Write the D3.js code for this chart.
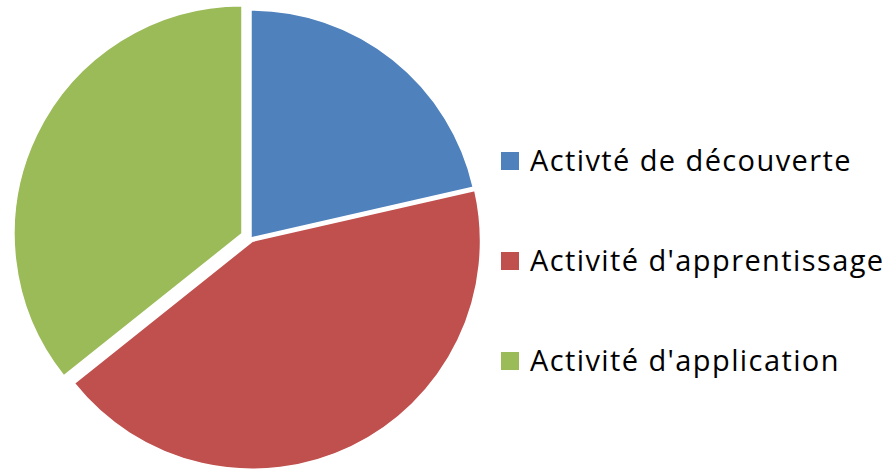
<!DOCTYPE html>
<html>
<head>
<meta charset="utf-8">
<script src="https://cdn.jsdelivr.net/npm/d3@7"></script>
<style>
  body { margin: 0; background: #fff; }
</style>
</head>
<body>
<div id="chart"></div>
<script>
// donnees du graphique
var categories = ["Activté de découverte", "Activité d'apprentissage", "Activité d'application"];
var valeurs = [6, 12, 10];

// couleurs style Excel + decalage de chaque part (explode)
var couleurs = ["#4F81BD", "#C0504D", "#9BBB59"];
var decalage = [0, 3.5, 10];

var w = 888, h = 471;
var radius = 228;
var cx = 251, cy = 238;

var svg = d3.select("#chart")
  .append("svg")
  .attr("width", w)
  .attr("height", h);

var pie = d3.pie()
  .sort(null)
  .value(d => d.value);

var data = categories.map((c, i) => ({name: c, value: valeurs[i], i: i}));
var arcs = pie(data);

var color = d3.scaleOrdinal()
  .domain(categories)
  .range(couleurs);

var arc = d3.arc().innerRadius(0).outerRadius(radius);

svg.append("g")
  .attr("transform", `translate(${cx},${cy})`)
  .selectAll("path")
  .data(arcs)
  .enter()
  .append("path")
    .attr("transform", d => {
      var a = (d.startAngle + d.endAngle) / 2;
      var k = decalage[d.data.i];
      return `translate(${k * Math.sin(a)},${-k * Math.cos(a)})`;
    })
    .attr("fill", d => color(d.data.name))
    .attr("stroke", "#fff")
    .attr("stroke-width", 1.5)
    .attr("d", arc);

// legende
var y = d3.scalePoint()
  .domain(categories)
  .range([161, 361]);

var legende = svg.append("g")
  .selectAll("g")
  .data(categories)
  .enter()
  .append("g")
    .attr("transform", d => `translate(501,${y(d)})`);

legende.append("rect")
  .attr("x", 0)
  .attr("y", -9)
  .attr("width", 18)
  .attr("height", 18)
  .attr("fill", d => color(d));

legende.append("text")
  .attr("x", 29)
  .attr("y", 10)
  .attr("font-family", "'Open Sans', sans-serif")
  .attr("font-size", 29)
  .attr("letter-spacing", 1.4)
  .attr("fill", "#000")
  .text(d => d);
</script>
</body>
</html>
